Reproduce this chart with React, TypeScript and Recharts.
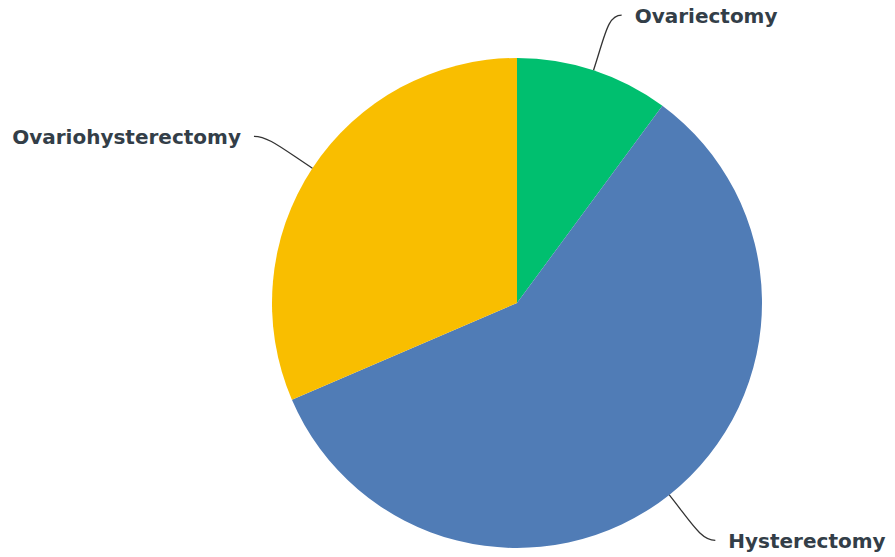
import React from 'react';
import { PieChart, Pie, Cell } from 'recharts';

const procedures = ['Ovariectomy', 'Hysterectomy', 'Ovariohysterectomy'];
const counts = [9, 52, 28];
const colors = ['#00BF6F', '#507CB6', '#F9BE00'];

const data = procedures.map((name, i) => ({ name, value: counts[i] }));

const RAD = Math.PI / 180;

const SliceLabel = (props: any) => {
    const { cx, cy, midAngle, outerRadius, name } = props;
    const cos = Math.cos(-midAngle * RAD);
    const sin = Math.sin(-midAngle * RAD);
    const dir = cos >= 0 ? 1 : -1;
    const sx = cx + outerRadius * cos;
    const sy = cy + outerRadius * sin;
    const mx = cx + (outerRadius + 38) * cos;
    const my = cy + (outerRadius + 38) * sin;
    const ex = cx + (outerRadius + 58) * cos + dir * 10;
    const ey = cy + (outerRadius + 58) * sin;
    return (
        <g>
            <path
                d={`M${sx},${sy} C${mx},${my} ${ex - dir * 14},${ey} ${ex},${ey}`}
                stroke="#333"
                strokeWidth={1.3}
                fill="none"
            />
            <text
                x={ex + dir * 13}
                y={ey + 1}
                textAnchor={dir > 0 ? 'start' : 'end'}
                dominantBaseline="central"
                fill="#333e48"
                fontFamily="'DejaVu Sans', sans-serif"
                fontWeight={700}
                fontSize={20}
            >
                {name}
            </text>
        </g>
    );
};

export default function App() {
    return (
        <div style={{ position: 'absolute', left: 0, top: 0 }}>
            <PieChart width={895} height={557} margin={{ top: 0, right: 0, bottom: 0, left: 0 }}>
                <Pie
                    data={data}
                    dataKey="value"
                    nameKey="name"
                    cx={517}
                    cy={303}
                    outerRadius={245}
                    startAngle={90}
                    endAngle={-270}
                    stroke="none"
                    label={SliceLabel}
                    labelLine={false}
                    isAnimationActive={false}
                >
                    {data.map((d, i) => (
                        <Cell key={d.name} fill={colors[i]} />
                    ))}
                </Pie>
            </PieChart>
        </div>
    );
}
